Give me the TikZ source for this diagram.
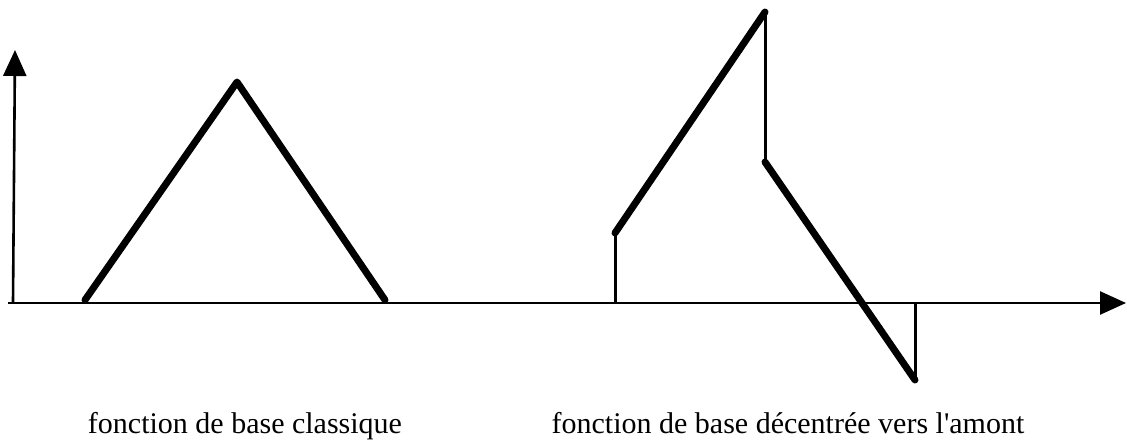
\documentclass[tikz,border=0pt]{standalone}
\usepackage{fontspec}
\setmainfont{Liberation Serif}
\usetikzlibrary{arrows.meta}
\tikzset{
  axis-line/.style={line width=2.6pt,-{Triangle[length=26pt,width=23pt]}},
  curve-thick/.style={line width=7pt,line cap=round,line join=round},
  curve-thin/.style={line width=3pt},
  caption/.style={font=\fontsize{30}{36}\selectfont,anchor=base},
}
\begin{document}
\begin{tikzpicture}[x=1pt,y=-1pt]
  \useasboundingbox (0,0) rectangle (1127,444);
  % axes
  \coordinate (o) at (13,303);
  \coordinate (xend) at (1126,303);
  \coordinate (yend) at (15,50);
  \draw[axis-line] (8,303) -- (xend);
  \draw[axis-line] (o) -- (yend);
  % classical basis function
  \coordinate (a1) at (85,300);
  \coordinate (a2) at (237,82);
  \coordinate (a3) at (385,300);
  \draw[curve-thick] (a1) -- (a2) -- (a3);
  % upwind-shifted basis function
  \coordinate (b0) at (615,303);
  \coordinate (b1) at (615,233);
  \coordinate (b2) at (765,12);
  \coordinate (b3) at (765,162);
  \coordinate (b4) at (915,380);
  \coordinate (b5) at (915,303);
  \draw[curve-thin] (b0) -- (b1);
  \draw[curve-thick] (b1) -- (b2);
  \draw[curve-thin] (b2) -- (b3);
  \draw[curve-thick] (b3) -- (b4);
  \draw[curve-thin] (b4) -- (b5);
  % captions
  \node[caption] (cap1) at (245,433) {fonction de base classique};
  \node[caption] (cap2) at (788,433) {fonction de base décentrée vers l\textquotesingle amont};
\end{tikzpicture}
\end{document}
